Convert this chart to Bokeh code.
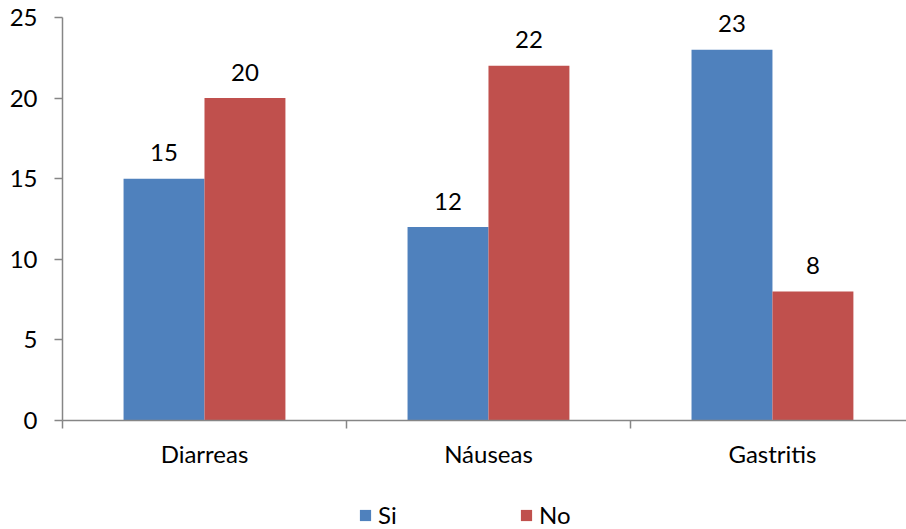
from bokeh.plotting import figure
from bokeh.layouts import column
from bokeh.models import (Range1d, FixedTicker, ColumnDataSource, Legend, LegendItem,
                          LinearAxis)
from bokeh.embed import file_html
from bokeh.resources import INLINE
from bokeh.core.properties import value

categories = ["Diarreas", "Náuseas", "Gastritis"]
si_values = [15, 12, 23]
no_values = [20, 22, 8]
series_names = ["Si", "No"]
y_ticks = [0, 5, 10, 15, 20, 25]

FONT = "Lato"
FS = "24px"
BLUE = "#4F81BD"
RED = "#C0504D"
GRAY = "#868686"

centers = [i + 0.5 for i in range(len(categories))]
bw = 0.285
si_src = ColumnDataSource(dict(x=[c - bw / 2 for c in centers], top=si_values,
                               lab=[str(v) for v in si_values]))
no_src = ColumnDataSource(dict(x=[c + bw / 2 for c in centers], top=no_values,
                               lab=[str(v) for v in no_values]))

p = figure(frame_width=844, frame_height=420, output_backend="svg", toolbar_location=None,
           x_range=Range1d(0, 2.972), y_range=Range1d(0, 26.055),
           x_axis_type=None, min_border_top=0, min_border_left=62,
           min_border_right=0, min_border_bottom=70)
p.outline_line_color = None
p.grid.visible = False
p.background_fill_color = "white"

p.vbar(x="x", top="top", width=bw, bottom=0, source=si_src, fill_color=BLUE, line_color=None)
p.vbar(x="x", top="top", width=bw, bottom=0, source=no_src, fill_color=RED, line_color=None)

for src in (si_src, no_src):
    p.text(x="x", y="top", text="lab", source=src, text_align="center", text_baseline="middle",
           y_offset=-26, text_font=value(FONT), text_font_size=FS, text_color="black")

# y axis
ya = p.yaxis[0]
ya.ticker = FixedTicker(ticks=y_ticks)
ya.bounds = (0, 25)
ya.axis_line_color = GRAY
ya.major_tick_line_color = GRAY
ya.major_tick_out = 8
ya.major_tick_in = 0
ya.minor_tick_line_color = None
ya.major_label_standoff = 17
ya.major_label_text_font = FONT
ya.major_label_text_font_size = FS
ya.major_label_text_color = "black"
ya.axis_line_width = 1.5
ya.major_tick_line_width = 1.5

# x axis
xa = LinearAxis(ticker=FixedTicker(ticks=centers, minor_ticks=[0, 1, 2, 3]),
                major_label_overrides={c: n for c, n in zip(centers, categories)})
xa.axis_line_color = GRAY
xa.axis_line_width = 1.5
xa.major_tick_line_color = None
xa.major_tick_out = 0
xa.major_tick_in = 0
xa.minor_tick_line_color = GRAY
xa.minor_tick_line_width = 1.5
xa.minor_tick_out = 8
xa.minor_tick_in = 0
xa.major_label_standoff = 10
xa.major_label_text_font = FONT
xa.major_label_text_font_size = FS
xa.major_label_text_color = "black"
p.add_layout(xa, "below")

# legend strip (its bars lie outside its ranges; only the legend shows)
p2 = figure(width=906, height=39, output_backend="svg", toolbar_location=None,
            x_range=Range1d(-20, -19), y_range=Range1d(-20, -19),
            x_axis_type=None, y_axis_type=None,
            min_border_top=0, min_border_left=62, min_border_right=0, min_border_bottom=0)
p2.outline_line_color = None
p2.grid.visible = False
l_si = p2.vbar(x="x", top="top", width=bw, source=si_src, fill_color=BLUE, line_color=None)
l_no = p2.vbar(x="x", top="top", width=bw, source=no_src, fill_color=RED, line_color=None)
legend = Legend(items=[LegendItem(label=series_names[0], renderers=[l_si]),
                       LegendItem(label=series_names[1], renderers=[l_no])],
                orientation="horizontal", location=(296, 0),
                border_line_color=None, background_fill_alpha=0,
                glyph_width=14, glyph_height=14, label_standoff=6, spacing=111,
                label_width=30, padding=0, margin=0,
                label_text_font=FONT, label_text_font_size=FS, label_text_color="black")
p2.add_layout(legend, "center")

layout = column(p, p2, spacing=0)
open("out.html", "w").write(file_html(layout, INLINE))
